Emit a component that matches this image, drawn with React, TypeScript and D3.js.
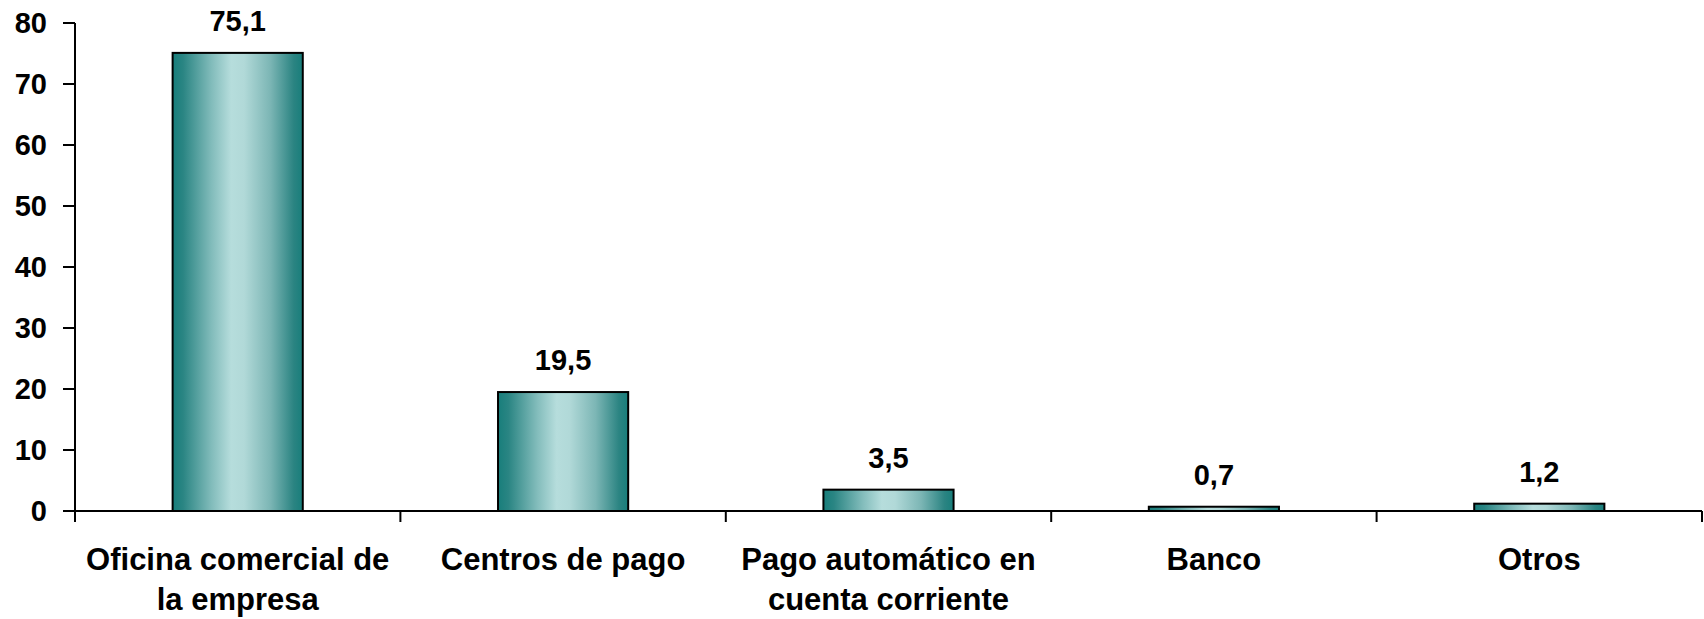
import React from "react";
import * as d3 from "d3";

const categories: string[][] = [
  ["Oficina comercial de", "la empresa"],
  ["Centros de pago"],
  ["Pago automático en", "cuenta corriente"],
  ["Banco"],
  ["Otros"],
];
const values: number[] = [75.1, 19.5, 3.5, 0.7, 1.2];
const yTicks: number[] = [0, 10, 20, 30, 40, 50, 60, 70, 80];

const W = 1704;
const H = 619;
const M = { left: 75, right: 2, top: 23, bottom: 108 };

export default function App() {
  const x = d3
    .scaleBand<number>()
    .domain(values.map((_, i) => i))
    .range([M.left, W - M.right])
    .paddingInner(0.6)
    .paddingOuter(0.3);
  const band = d3
    .scaleBand<number>()
    .domain(values.map((_, i) => i))
    .range([M.left, W - M.right]);
  const y = d3.scaleLinear().domain([0, 80]).range([H - M.bottom, M.top]);
  const font = "'Liberation Sans', Arial, Helvetica, sans-serif";
  const y0 = y(0);
  const fmt = (v: number) => d3.format(".1f")(v).replace(".", ",");
  const catTicks = d3.range(values.length + 1).map((i) => M.left + i * band.step());

  return (
    <svg
      width={W}
      height={H}
      style={{ position: "absolute", left: 0, top: 0, background: "#fff" }}
      fontFamily={font}
      fontWeight="bold"
    >
      <defs>
        <linearGradient id="barGrad" x1="0" x2="1" y1="0" y2="0">
          <stop offset="0" stopColor="#187e7b" />
          <stop offset="0.08" stopColor="#2a8583" />
          <stop offset="0.3" stopColor="#82bcbb" />
          <stop offset="0.45" stopColor="#b6dddc" />
          <stop offset="0.55" stopColor="#b1d9d8" />
          <stop offset="0.75" stopColor="#7cb6b5" />
          <stop offset="0.93" stopColor="#2b8482" />
          <stop offset="1" stopColor="#187e7b" />
        </linearGradient>
      </defs>

      {/* bars */}
      {values.map((v, i) => (
        <rect
          key={i}
          x={x(i)!}
          y={y(v)}
          width={x.bandwidth()}
          height={y0 - y(v)}
          fill="url(#barGrad)"
          stroke="#000"
          strokeWidth={2}
        />
      ))}

      {/* value labels */}
      {values.map((v, i) => (
        <text
          key={i}
          x={x(i)! + x.bandwidth() / 2}
          y={y(v) - 22}
          textAnchor="middle"
          fontSize={29}
          fill="#000"
        >
          {fmt(v)}
        </text>
      ))}

      {/* y axis */}
      <line x1={M.left} x2={M.left} y1={y(80)} y2={y0} stroke="#000" strokeWidth={2} />
      {yTicks.map((t) => (
        <g key={t}>
          <line x1={M.left - 12} x2={M.left} y1={y(t)} y2={y(t)} stroke="#000" strokeWidth={2} />
          <text
            x={M.left - 28}
            y={y(t)}
            dy="0.36em"
            textAnchor="end"
            fontSize={29}
            fill="#000"
          >
            {t}
          </text>
        </g>
      ))}

      {/* x axis */}
      <line x1={M.left} x2={W - M.right} y1={y0} y2={y0} stroke="#000" strokeWidth={2} />
      {catTicks.map((cx, i) => (
        <line key={i} x1={cx} x2={cx} y1={y0} y2={y0 + 11} stroke="#000" strokeWidth={2} />
      ))}
      {categories.map((lines, i) => (
        <text
          key={i}
          x={band(i)! + band.bandwidth() / 2}
          y={570}
          textAnchor="middle"
          fontSize={31}
          fill="#000"
        >
          {lines.map((l, j) => (
            <tspan key={j} x={band(i)! + band.bandwidth() / 2} dy={j === 0 ? 0 : 40}>
              {l}
            </tspan>
          ))}
        </text>
      ))}
    </svg>
  );
}
